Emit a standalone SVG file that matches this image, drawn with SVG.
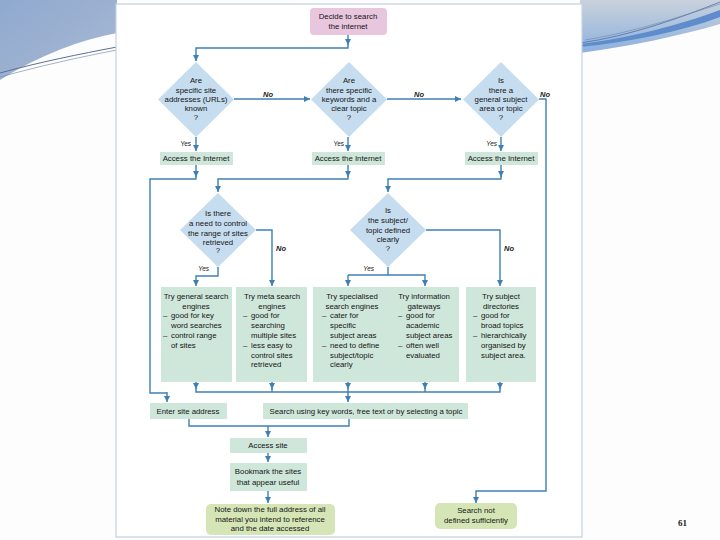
<svg xmlns="http://www.w3.org/2000/svg" width="720" height="540" viewBox="0 0 720 540">
<defs>
<linearGradient id="gl" x1="0" y1="0" x2="1" y2="1"><stop offset="0" stop-color="#8fa9cf"/><stop offset="1" stop-color="#a9b9d3"/></linearGradient>
<linearGradient id="gr" x1="0" y1="0" x2="0" y2="1"><stop offset="0" stop-color="#c9d2dc"/><stop offset="1" stop-color="#8cb0de"/></linearGradient>
<marker id="ah" markerUnits="userSpaceOnUse" markerWidth="6" markerHeight="7" refX="6" refY="3" orient="auto"><path d="M0,0 L6,3 L0,6 z" fill="#3e80b5"/></marker>
<style>
.t{font-family:"Liberation Sans",Arial,sans-serif;font-size:7.8px;fill:#151515}
.c{text-anchor:middle}
.lab{font-family:"Liberation Sans",Arial,sans-serif;font-size:7.5px;font-style:italic;font-weight:bold;fill:#222}
.yes{font-family:"Liberation Sans",Arial,sans-serif;font-size:6.5px;fill:#222;text-anchor:end}
.box{fill:#cfe6da}
.dia{fill:#c6ddf0}
.cn{fill:none;stroke:#3e80b5;stroke-width:1.4}
.ar{marker-end:url(#ah)}
</style>
</defs>
<rect width="720" height="540" fill="#fdfdfe"/>
<!-- background decoration -->
<path d="M0,0 H117 V33 C80,40 40,55 0,80 Z" fill="url(#gl)"/>
<path d="M0,73 C40,62 80,54 117,47" fill="none" stroke="#5c6f93" stroke-width="1"/>
<path d="M0,77 C40,66 80,57 117,50" fill="none" stroke="#7f90ad" stroke-width="0.7"/>
<path d="M580,0 H720 V24 C680,36 630,46 580,53 Z" fill="url(#gr)"/>
<path d="M580,44 C630,38 680,25 720,10 L720,17 C680,32 630,42 580,47 Z" fill="#5f8ccc"/>
<path d="M580,43 C630,36 680,18 720,2" fill="none" stroke="#4f6e9e" stroke-width="0.8"/>
<path d="M585,40 C635,32 685,15 720,4" fill="none" stroke="#6d86b0" stroke-width="0.6"/>
<rect x="116" y="4" width="466" height="533" fill="#ffffff" stroke="#c3d3e2" stroke-width="1.2"/>
<text x="678" y="526" font-family="Liberation Serif,serif" font-size="9" font-weight="bold" fill="#222">61</text>

<g id="connectors">
<line class="cn ar" x1="348" y1="35" x2="348" y2="45"/>
<path class="cn ar" d="M348,44 V48 H196 V61"/>
<line class="cn ar" x1="234" y1="99" x2="310" y2="99"/>
<line class="cn ar" x1="387" y1="99" x2="461" y2="99"/>
<path class="cn ar" d="M539,99 H546 V491 H476 V503"/>
<line class="cn ar" x1="196" y1="137" x2="196" y2="151"/>
<line class="cn ar" x1="348" y1="137" x2="348" y2="151"/>
<line class="cn ar" x1="501" y1="137" x2="501" y2="151"/>
<line class="cn ar" x1="196" y1="165" x2="196" y2="177"/>
<path class="cn" d="M196,176 V179 H150 V393 H167"/>
<line class="cn ar" x1="167" y1="392" x2="167" y2="402"/>
<line class="cn ar" x1="348" y1="165" x2="348" y2="177"/>
<path class="cn ar" d="M348,176 V179 H218 V192"/>
<line class="cn ar" x1="501" y1="165" x2="501" y2="177"/>
<path class="cn ar" d="M501,176 V179 H388 V192"/>
<path class="cn ar" d="M256,230 H272 V286"/>
<path class="cn ar" d="M218,267 V276 H196 V286"/>
<path class="cn ar" d="M426,230 H500 V286"/>
<path class="cn" d="M388,267 V275 H348"/>
<path class="cn ar" d="M348,275 V286"/>
<path class="cn ar" d="M388,275 H425 V286"/>
<line class="cn ar" x1="196" y1="382" x2="196" y2="389"/>
<line class="cn ar" x1="272" y1="382" x2="272" y2="389"/>
<line class="cn ar" x1="348" y1="382" x2="348" y2="389"/>
<line class="cn ar" x1="425" y1="382" x2="425" y2="389"/>
<line class="cn ar" x1="500" y1="382" x2="500" y2="389"/>
<path class="cn" d="M196,388 V392 H500 V388 M272,388 V392 M348,388 V392 M425,388 V392"/>
<line class="cn ar" x1="348" y1="392" x2="348" y2="402"/>
<path class="cn" d="M189,419 V426 H349 V419"/>
<line class="cn ar" x1="268" y1="426" x2="268" y2="437"/>
<line class="cn ar" x1="268" y1="453" x2="268" y2="462"/>
<line class="cn ar" x1="268" y1="491" x2="268" y2="503"/>
</g>
<g id="labels">
<text class="lab" x="263" y="97">No</text>
<text class="lab" x="414" y="97">No</text>
<text class="lab" x="540" y="97">No</text>
<text class="lab" x="276" y="251">No</text>
<text class="lab" x="504" y="251">No</text>
<text class="yes" x="191" y="146">Yes</text>
<text class="yes" x="344" y="146">Yes</text>
<text class="yes" x="497" y="146" font-style="italic">Yes</text>
<text class="yes" x="209" y="271" font-style="italic">Yes</text>
<text class="yes" x="374" y="271" font-style="italic">Yes</text>
</g>

<g id="start">
<rect x="310" y="8" width="77" height="27" rx="4" fill="#e8c6de"/>
<text class="t c" x="348" y="19">Decide to search</text>
<text class="t c" x="348" y="29">the internet</text>
</g>
<g id="q1">
<polygon class="dia" points="196,62 234,99.5 196,137 158,99.5"/>
<text class="t c" x="196" y="83">Are</text>
<text class="t c" x="196" y="93">specific site</text>
<text class="t c" x="196" y="102">addresses (URLs)</text>
<text class="t c" x="196" y="111">known</text>
<text class="t c" x="196" y="120">?</text>
</g>
<g id="q2">
<polygon class="dia" points="349,62 387,99.5 349,137 311,99.5"/>
<text class="t c" x="349" y="83">Are</text>
<text class="t c" x="349" y="93">there specific</text>
<text class="t c" x="349" y="102">keywords and a</text>
<text class="t c" x="349" y="111">clear topic</text>
<text class="t c" x="349" y="120">?</text>
</g>
<g id="q3">
<polygon class="dia" points="501,62 539,99.5 501,137 463,99.5"/>
<text class="t c" x="501" y="83">Is</text>
<text class="t c" x="501" y="93">there a</text>
<text class="t c" x="501" y="102">general subject</text>
<text class="t c" x="501" y="111">area or topic</text>
<text class="t c" x="501" y="120">?</text>
</g>
<g id="access1"><rect class="box" x="160" y="152" width="73" height="13"/><text class="t c" x="196" y="161">Access the Internet</text></g>
<g id="access2"><rect class="box" x="312" y="152" width="73" height="13"/><text class="t c" x="348" y="161">Access the Internet</text></g>
<g id="access3"><rect class="box" x="465" y="152" width="73" height="13"/><text class="t c" x="501" y="161">Access the Internet</text></g>
<g id="q4">
<polygon class="dia" points="218,193 256,230 218,267 180,230"/>
<text class="t c" x="218" y="216">Is there</text>
<text class="t c" x="218" y="226">a need to control</text>
<text class="t c" x="218" y="236">the range of sites</text>
<text class="t c" x="218" y="245">retrieved</text>
<text class="t c" x="218" y="253">?</text>
</g>
<g id="q5">
<polygon class="dia" points="388,193 426,230 388,267 350,230"/>
<text class="t c" x="388" y="213">Is</text>
<text class="t c" x="388" y="223">the subject/</text>
<text class="t c" x="388" y="233">topic defined</text>
<text class="t c" x="388" y="242">clearly</text>
<text class="t c" x="388" y="251">?</text>
</g>
<g id="general">
<rect class="box" x="161" y="287" width="71" height="95"/>
<text class="t c" x="196" y="299">Try general search</text>
<text class="t c" x="196" y="309">engines</text>
<text class="t" x="163" y="318">–</text><text class="t" x="171" y="318">good for key</text>
<text class="t" x="171" y="328">word searches</text>
<text class="t" x="163" y="338">–</text><text class="t" x="171" y="338">control range</text>
<text class="t" x="171" y="348">of sites</text>
</g>
<g id="meta">
<rect class="box" x="236" y="287" width="71" height="95"/>
<text class="t c" x="272" y="299">Try meta search</text>
<text class="t c" x="272" y="309">engines</text>
<text class="t" x="243" y="318">–</text><text class="t" x="251" y="318">good for</text>
<text class="t" x="251" y="328">searching</text>
<text class="t" x="251" y="338">multiple sites</text>
<text class="t" x="243" y="348">–</text><text class="t" x="251" y="348">less easy to</text>
<text class="t" x="251" y="358">control sites</text>
<text class="t" x="251" y="367">retrieved</text>
</g>
<g id="specialised">
<rect class="box" x="313" y="287" width="146" height="95"/>
<text class="t c" x="352" y="299">Try specialised</text>
<text class="t c" x="352" y="309">search engines</text>
<text class="t" x="322" y="318">–</text><text class="t" x="330" y="318">cater for</text>
<text class="t" x="330" y="328">specific</text>
<text class="t" x="330" y="338">subject areas</text>
<text class="t" x="322" y="348">–</text><text class="t" x="330" y="348">need to define</text>
<text class="t" x="330" y="358">subject/topic</text>
<text class="t" x="330" y="367">clearly</text>
<text class="t c" x="424" y="299">Try information</text>
<text class="t c" x="424" y="309">gateways</text>
<text class="t" x="398" y="318">–</text><text class="t" x="406" y="318">good for</text>
<text class="t" x="406" y="328">academic</text>
<text class="t" x="406" y="338">subject areas</text>
<text class="t" x="398" y="348">–</text><text class="t" x="406" y="348">often well</text>
<text class="t" x="406" y="358">evaluated</text>
</g>
<g id="directories">
<rect class="box" x="466" y="287" width="70" height="95"/>
<text class="t c" x="501" y="299">Try subject</text>
<text class="t c" x="501" y="309">directories</text>
<text class="t" x="473" y="318">–</text><text class="t" x="481" y="318">good for</text>
<text class="t" x="481" y="328">broad topics</text>
<text class="t" x="473" y="338">–</text><text class="t" x="481" y="338">hierarchically</text>
<text class="t" x="481" y="348">organised by</text>
<text class="t" x="481" y="358">subject area.</text>
</g>
<g id="enter"><rect class="box" x="150" y="403" width="77" height="16"/><text class="t c" x="188" y="414">Enter site address</text></g>
<g id="search"><rect class="box" x="263" y="403" width="205" height="16"/><text class="t c" x="366" y="414">Search using key words, free text or by selecting a topic</text></g>
<g id="accesssite"><rect class="box" x="230" y="438" width="77" height="15"/><text class="t c" x="268" y="448">Access site</text></g>
<g id="bookmark"><rect class="box" x="230" y="463" width="77" height="28"/><text class="t c" x="268" y="474">Bookmark the sites</text><text class="t c" x="268" y="485">that appear useful</text></g>
<g id="note"><rect x="206" y="504" width="129" height="31" rx="5" fill="#d5e5b6"/>
<text class="t c" x="270" y="512">Note down the full address of all</text>
<text class="t c" x="270" y="522">material you intend to reference</text>
<text class="t c" x="270" y="531">and the date accessed</text></g>
<g id="notdefined"><rect x="435" y="503" width="82" height="26" rx="5" fill="#d5e5b6"/>
<text class="t c" x="476" y="513">Search not</text>
<text class="t c" x="476" y="523">defined sufficiently</text></g>
</svg>
